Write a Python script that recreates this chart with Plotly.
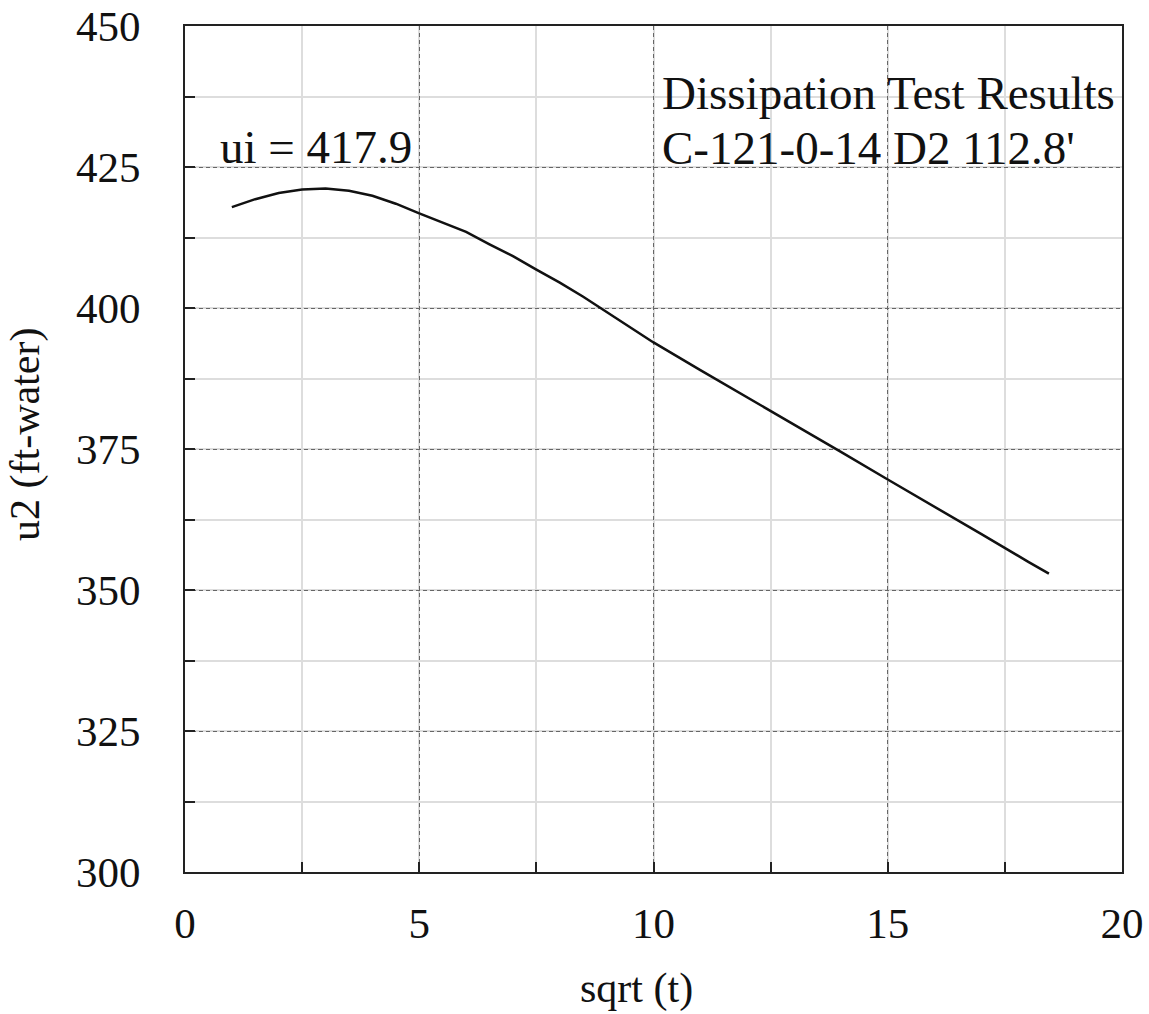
import plotly.graph_objects as go

# Dissipation test: pore pressure u2 versus square root of time
sqrt_t = [1.0, 1.5, 2.0, 2.5, 3.0, 3.5, 4.0, 4.5, 5.0, 5.5, 6.0, 6.5, 7.0, 7.5,
          8.0, 8.5, 9.0, 9.5, 10.0, 11.0, 12.0, 13.0, 14.0, 15.0, 16.0, 17.0,
          18.0, 18.44]
u2 = [417.9, 419.3, 420.4, 421.0, 421.2, 420.8, 419.9, 418.5, 416.8, 415.2,
      413.5, 411.3, 409.2, 406.8, 404.5, 402.0, 399.3, 396.6, 393.9, 389.0,
      384.2, 379.3, 374.5, 369.6, 364.8, 359.9, 355.0, 352.9]

x_ticks = [0, 5, 10, 15, 20]
y_ticks = [300, 325, 350, 375, 400, 425, 450]

ui_label = "ui = 417.9"
title_lines = ["Dissipation Test Results", "C-121-0-14 D2 112.8'"]

FONT = "Liberation Serif, Times New Roman, serif"
INK = "#111111"

fig = go.Figure()
fig.add_trace(go.Scatter(x=sqrt_t, y=u2, mode="lines",
                         line=dict(color=INK, width=2.5),
                         showlegend=False, hoverinfo="skip"))

axis_common = dict(
    showline=True, linecolor="#222222", linewidth=2, mirror=True,
    ticks="inside", ticklen=10, tickwidth=2, tickcolor="#222222",
    showgrid=True, gridcolor="#666666", gridwidth=1, griddash="4px,3px",
    zeroline=False, tickmode="array", ticklabeloverflow="allow",
    automargin=False,
    tickfont=dict(family=FONT, size=43, color=INK),
)
minor_common = dict(ticks="inside", ticklen=10, tickwidth=2,
                    tickcolor="#222222", showgrid=True, gridcolor="#dddddd",
                    gridwidth=1.5, griddash="solid")

fig.update_xaxes(**axis_common, range=[0, 20], tickvals=x_ticks,
                 ticklabelstandoff=12,
                 minor=dict(**minor_common, tick0=0, dtick=2.5))
fig.update_yaxes(**axis_common, range=[300, 450.01], tickvals=y_ticks,
                 ticklabelstandoff=34,
                 minor=dict(**minor_common, tick0=300, dtick=12.5))

# axis titles
fig.add_annotation(x=(636 - 185) / 937, y=-0.138, xref="paper", yref="paper",
                   text="sqrt (t)", showarrow=False, xanchor="center",
                   yanchor="middle", font=dict(family=FONT, size=42, color=INK))
fig.add_annotation(x=-(185 - 25) / 937, y=(872 - 435) / 846, xref="paper",
                   yref="paper", text="u2 (ft-water)", showarrow=False,
                   textangle=-90, xanchor="center", yanchor="middle",
                   font=dict(family=FONT, size=42, color=INK))

# in-plot labels
fig.add_annotation(x=0.7, y=428.6, xref="x", yref="y", text=ui_label,
                   showarrow=False, xanchor="left", yanchor="middle",
                   font=dict(family=FONT, size=47, color=INK))
fig.add_annotation(x=10.14, y=438.2, xref="x", yref="y", text=title_lines[0],
                   showarrow=False, xanchor="left", yanchor="middle",
                   font=dict(family=FONT, size=47, color=INK))
fig.add_annotation(x=10.14, y=428.4, xref="x", yref="y", text=title_lines[1],
                   showarrow=False, xanchor="left", yanchor="middle",
                   font=dict(family=FONT, size=47, color=INK))

fig.update_layout(
    width=1149, height=1014,
    margin=dict(l=185, r=27, t=26, b=142),
    paper_bgcolor="white", plot_bgcolor="white",
)

fig.write_html("out.html")
